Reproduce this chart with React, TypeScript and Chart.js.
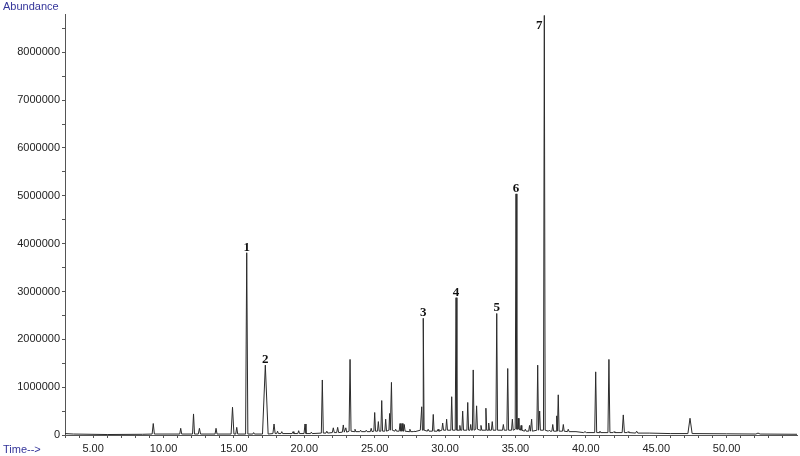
import React, { useEffect, useRef } from "react";
import { Chart, registerables } from "chart.js";

Chart.register(...registerables);

// Retention time axis (min) and abundance axis
const timeMin = 3.0;
const timeMax = 55.0;
const abundanceMax = 8800000;

// Tick labels
const xLabelTicks = [5, 10, 15, 20, 25, 30, 35, 40, 45, 50];
const yLabelTicks = [0, 1000000, 2000000, 3000000, 4000000, 5000000, 6000000, 7000000, 8000000];

// Peaks: retention time (min), apex abundance, local baseline, half width (min)
const peakTimes = [
  9.27, 11.22, 12.13, 12.55, 13.73, 14.9, 15.2, 15.91, 16.4, 17.23,
  17.85, 18.1, 18.4, 19.2, 19.6, 20.05, 20.5, 21.28, 21.6, 22.06,
  22.37, 22.77, 22.95, 23.25, 23.6, 24.0, 24.4, 24.75, 25.0, 25.26,
  25.5, 25.78, 26.06, 26.19, 26.49, 26.8, 26.95, 27.1, 27.5, 27.8,
  28.34, 28.45, 28.8, 29.16, 29.5, 29.83, 30.11, 30.47, 30.78, 31.05,
  31.25, 31.61, 31.82, 32.0, 32.24, 32.55, 32.9, 33.1, 33.35, 33.67,
  34.14, 34.45, 34.78, 35.04, 35.2, 35.4, 35.7, 36.0, 36.15, 36.58,
  36.72, 37.05, 37.4, 37.65, 37.93, 38.04, 38.4, 38.75, 39.94, 40.7,
  41.0, 41.64, 42.0, 42.66, 43.0, 43.61, 47.4, 52.23,
];
const peakHeights = [
  240000, 140000, 440000, 140000, 140000, 580000, 160000, 3810000, 50000, 1460000,
  230000, 80000, 70000, 70000, 90000, 230000, 60000, 1150000, 80000, 150000,
  160000, 210000, 150000, 1580000, 120000, 100000, 100000, 140000, 470000, 280000,
  720000, 330000, 450000, 1100000, 120000, 240000, 240000, 220000, 120000, 80000,
  590000, 2440000, 120000, 430000, 120000, 250000, 330000, 800000, 2870000, 200000,
  500000, 680000, 220000, 1360000, 610000, 200000, 560000, 250000, 280000, 2540000,
  220000, 1390000, 330000, 5040000, 350000, 200000, 120000, 200000, 330000, 1460000,
  500000, 8770000, 100000, 220000, 400000, 840000, 220000, 120000, 70000, 1320000,
  80000, 1580000, 70000, 420000, 70000, 80000, 350000, 40000,
];
const peakBases = [
  20000, 20000, 20000, 20000, 20000, 20000, 20000, 20000, 20000, 20000,
  30000, 30000, 30000, 30000, 30000, 30000, 30000, 40000, 40000, 50000,
  50000, 60000, 60000, 80000, 70000, 70000, 70000, 70000, 80000, 80000,
  80000, 80000, 100000, 100000, 80000, 80000, 80000, 80000, 70000, 70000,
  100000, 100000, 80000, 80000, 80000, 100000, 100000, 100000, 100000, 100000,
  100000, 100000, 100000, 100000, 120000, 100000, 100000, 100000, 100000, 100000,
  100000, 100000, 100000, 120000, 120000, 100000, 80000, 80000, 80000, 100000,
  100000, 100000, 80000, 80000, 80000, 80000, 80000, 70000, 50000, 50000,
  50000, 50000, 50000, 50000, 50000, 40000, 30000, 20000,
];
const peakHalfWidths = [
  0.08, 0.07, 0.07, 0.08, 0.07, 0.1, 0.07, 0.08, 0.06, 0.2,
  0.08, 0.06, 0.06, 0.06, 0.06, 0.07, 0.06, 0.07, 0.06, 0.07,
  0.07, 0.07, 0.06, 0.07, 0.06, 0.06, 0.06, 0.06, 0.06, 0.06,
  0.06, 0.06, 0.05, 0.06, 0.06, 0.06, 0.06, 0.06, 0.06, 0.06,
  0.1, 0.06, 0.06, 0.06, 0.06, 0.06, 0.06, 0.06, 0.06, 0.05,
  0.06, 0.06, 0.05, 0.06, 0.06, 0.06, 0.06, 0.05, 0.06, 0.06,
  0.06, 0.06, 0.06, 0.06, 0.05, 0.05, 0.06, 0.06, 0.05, 0.06,
  0.05, 0.06, 0.06, 0.06, 0.05, 0.06, 0.06, 0.06, 0.1, 0.07,
  0.06, 0.07, 0.06, 0.08, 0.06, 0.08, 0.15, 0.15,
];

// Baseline stretches between peaks
const baselineTimes = [3.0, 3.6, 6.0, 8.5, 39.3, 44.5, 46.0, 50.0, 55.0];
const baselineLevels = [30000, 20000, 10000, 15000, 70000, 40000, 30000, 25000, 15000];

// Numbered peaks
const labelNames = ["1", "2", "3", "4", "5", "6", "7"];
const labelTimes = [15.91, 17.23, 28.45, 30.78, 33.67, 35.04, 37.05];
const labelHeights = [3810000, 1460000, 2440000, 2870000, 2540000, 5040000, 8770000];

function buildTrace() {
  const pts: { x: number; y: number }[] = [];
  for (let i = 0; i < baselineTimes.length; i++) {
    pts.push({ x: baselineTimes[i], y: baselineLevels[i] });
  }
  for (let i = 0; i < peakTimes.length; i++) {
    const t = peakTimes[i];
    const w = peakHalfWidths[i];
    pts.push({ x: t - w, y: peakBases[i] });
    pts.push({ x: t, y: peakHeights[i] });
    pts.push({ x: t + w, y: peakBases[i] });
  }
  pts.sort((a, b) => a.x - b.x);
  return pts;
}

// tick positions: labelled ticks plus unlabelled minor ticks between them
function xTickList() {
  const list: { value: number; label: string }[] = [];
  for (let t = Math.ceil(timeMin); t < timeMax; t++) {
    list.push({ value: t, label: xLabelTicks.includes(t) ? t.toFixed(2) : "" });
  }
  return list;
}
function yTickList() {
  const list: { value: number; label: string }[] = [];
  const step = yLabelTicks[1] - yLabelTicks[0];
  for (let i = 0; i < yLabelTicks.length; i++) {
    list.push({ value: yLabelTicks[i], label: String(yLabelTicks[i]) });
    if (yLabelTicks[i] + step / 2 < abundanceMax) list.push({ value: yLabelTicks[i] + step / 2, label: "" });
  }
  return list;
}
const xTicks = xTickList();
const yTicks = yTickList();

const textPlugin = {
  id: "chromText",
  afterDraw(chart: any) {
    const ctx = chart.ctx;
    const xs = chart.scales.x;
    const ys = chart.scales.y;
    ctx.save();
    ctx.fillStyle = "#34359a";
    ctx.font = "11px 'Liberation Sans', Arial, sans-serif";
    ctx.textAlign = "left";
    ctx.textBaseline = "middle";
    ctx.fillText("Abundance", 3, 7);
    ctx.fillText("Time-->", 3, 450);

    ctx.fillStyle = "#111";
    ctx.font = "bold 13px 'Liberation Serif', 'Times New Roman', serif";
    ctx.textAlign = "center";
    ctx.textBaseline = "alphabetic";
    for (let i = 0; i < labelNames.length; i++) {
      const px = xs.getPixelForValue(labelTimes[i]);
      const py = ys.getPixelForValue(labelHeights[i]);
      if (py - 12 < chart.chartArea.top) {
        ctx.fillText(labelNames[i], px - 5, py + 14);
      } else {
        ctx.fillText(labelNames[i], px, py - 2);
      }
    }
    ctx.restore();
  },
};

export default function App() {
  const ref = useRef<HTMLCanvasElement | null>(null);
  useEffect(() => {
    if (!ref.current) return;
    const chart = new Chart(ref.current, {
      type: "line",
      data: {
        datasets: [
          {
            data: buildTrace(),
            borderColor: "#2b2b2b",
            borderWidth: 1,
            pointRadius: 0,
            tension: 0,
            fill: false,
          },
        ],
      },
      options: {
        animation: false,
        responsive: false,
        parsing: false as any,
        layout: { padding: { left: 0, top: 14, right: 3, bottom: 0 } },
        plugins: { legend: { display: false }, tooltip: { enabled: false }, title: { display: false } },
        scales: {
          x: {
            type: "linear",
            min: timeMin,
            max: timeMax,
            afterBuildTicks: (s: any) => {
              s.ticks = xTicks.map((t) => ({ value: t.value }));
            },
            afterFit: (s: any) => {
              s.height = 21;
            },
            grid: { drawOnChartArea: false, tickLength: 3, tickColor: "#555" },
            border: { display: true, color: "#555", width: 1 },
            ticks: {
              autoSkip: false,
              maxRotation: 0,
              padding: 4,
              color: "#222",
              font: { family: "'Liberation Sans', Arial, sans-serif", size: 11 },
              callback: (_v: any, i: number) => (xTicks[i] ? xTicks[i].label : ""),
            },
          },
          y: {
            type: "linear",
            min: 0,
            max: abundanceMax,
            afterBuildTicks: (s: any) => {
              s.ticks = yTicks.map((t) => ({ value: t.value }));
            },
            afterFit: (s: any) => {
              s.width = 65;
            },
            grid: { drawOnChartArea: false, tickLength: 3, tickColor: "#555" },
            border: { display: true, color: "#555", width: 1 },
            ticks: {
              autoSkip: false,
              padding: 2,
              color: "#222",
              font: { family: "'Liberation Sans', Arial, sans-serif", size: 11 },
              callback: (_v: any, i: number) => (yTicks[i] ? yTicks[i].label : ""),
            },
          },
        },
      },
      plugins: [textPlugin],
    });
    return () => chart.destroy();
  }, []);
  return (
    <div style={{ position: "fixed", left: 0, top: 0, width: 800, height: 456, background: "#fff" }}>
      <canvas ref={ref} width={800} height={456} style={{ display: "block" }} />
    </div>
  );
}
